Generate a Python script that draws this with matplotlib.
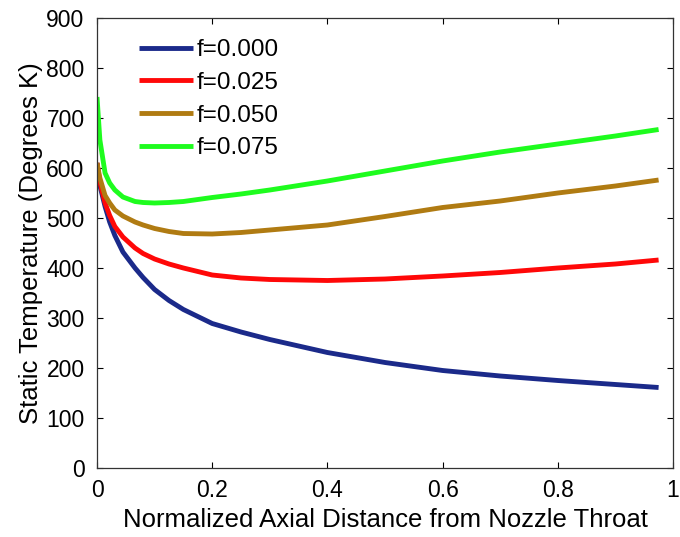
import matplotlib
matplotlib.use("Agg")
import matplotlib.pyplot as plt

plt.rcParams['font.family'] = ['Liberation Sans', 'DejaVu Sans']

x = [0.0, 0.005, 0.014, 0.022, 0.031, 0.045, 0.066, 0.08, 0.1, 0.125, 0.15, 0.2, 0.25, 0.3, 0.4, 0.5, 0.6, 0.7, 0.8, 0.9, 0.975]

t_f000 = [610, 565, 523, 492, 465, 432, 400, 381, 357, 335, 317, 289, 272, 257, 231, 211, 195, 184, 175, 167, 161]
t_f025 = [610, 572, 530, 505, 483, 462, 440, 429, 418, 408, 400, 386, 380, 377, 375, 378, 384, 391, 400, 408, 416]
t_f050 = [610, 580, 545, 530, 516, 504, 492, 486, 479, 473, 469, 468, 471, 476, 486, 503, 521, 534, 550, 564, 576]
t_f075 = [742, 656, 590, 570, 556, 542, 533, 531, 530, 531, 533, 541, 548, 556, 574, 594, 614, 632, 648, 664, 677]

labels = ['f=0.000', 'f=0.025', 'f=0.050', 'f=0.075']
colors = ['#1b2a8a', '#ff0808', '#b07b12', '#1efc1e']
xticks = [0, 0.2, 0.4, 0.6, 0.8, 1]
xticklabels = ['0', '0.2', '0.4', '0.6', '0.8', '1']
yticks = [0, 100, 200, 300, 400, 500, 600, 700, 800, 900]

fig = plt.figure(figsize=(6.8, 5.37), dpi=100)
ax = fig.add_axes([97/680, 69/537, 576/680, 450/537])

for y, lab, c in zip([t_f000, t_f025, t_f050, t_f075], labels, colors):
    ax.plot(x, y, color=c, lw=3.5, label=lab, solid_capstyle='butt',
            solid_joinstyle='round')

ax.set_xlim(0, 1)
ax.set_ylim(0, 900)
ax.set_xticks(xticks)
ax.set_xticklabels(xticklabels)
ax.set_yticks(yticks)
ax.tick_params(direction='in', length=4, width=0.8, top=True, right=True,
               labelsize=16.5)
ax.tick_params(axis='x', pad=8)
ax.tick_params(axis='y', pad=9)
for s in ax.spines.values():
    s.set_linewidth(0.9)
    s.set_color('#333333')

ax.set_xlabel('Normalized Axial Distance from Nozzle Throat', fontsize=18.5, labelpad=4)
ax.set_ylabel('Static Temperature (Degrees K)', fontsize=18.5, labelpad=2)

leg = ax.legend(loc='upper left', bbox_to_anchor=(0.073, 0.953), frameon=False,
                fontsize=17.5, handlelength=2.22, handletextpad=0.16,
                labelspacing=0.44, borderaxespad=0, borderpad=0)

fig.savefig('out.png', dpi=100)
